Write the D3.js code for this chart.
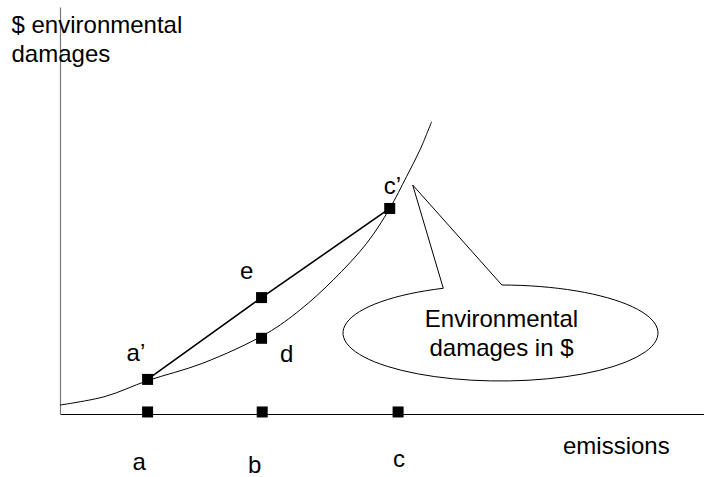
<!DOCTYPE html>
<html>
<head>
<meta charset="utf-8">
<script src="https://cdn.jsdelivr.net/npm/d3@7"></script>
<style>
  html, body { margin: 0; padding: 0; background: #fff; }
  text { font-family: Arial, "Liberation Sans", sans-serif; fill: #000; }
</style>
</head>
<body>
<svg id="chart" width="704" height="477"></svg>
<script>
// ---- data (arbitrary units: emissions 0-100, damages 0-100) ----
const damageCurveX = [0, 7.0, 13.6, 22.2, 32.1, 37.3, 42.4, 47.6, 51.2, 53.8, 55.9, 57.7];
const damageCurveY = [2.2, 4.3, 8.2, 12.5, 19.8, 25.6, 32.9, 41.9, 50.5, 58.3, 64.9, 71.8];

const pointLabels = ["a’", "e", "d", "c’"];
const pointX = [13.6, 31.3, 31.3, 51.2];
const pointY = [8.5, 28.6, 18.6, 50.5];

const chordLabels = ["a’", "e", "c’"];

const emissionLabels = ["a", "b", "c"];
const emissionX = [13.6, 31.4, 52.5];
const emissionY = [0.5, 0.5, 0.5];

const axisTitleY = ["$ environmental", "damages"];
const axisTitleX = "emissions";
const bubbleText = ["Environmental", "damages in $"];

// ---- layout ----
const svg = d3.select("#chart");
const x = d3.scaleLinear().domain([0, 100]).range([60, 704]);
const y = d3.scaleLinear().domain([0, 100]).range([414, 7]);

// axes (plain lines, no ticks)
svg.append("g")
  .attr("transform", `translate(0,${y(0)})`)
  .call(d3.axisBottom(x).ticks(0).tickSizeOuter(0))
  .call(g => g.select(".domain").attr("stroke", "#000").attr("stroke-width", 1.2));
svg.append("g")
  .attr("transform", `translate(${x(0)},0)`)
  .call(d3.axisLeft(y).ticks(0).tickSizeOuter(0))
  .call(g => g.select(".domain").attr("stroke", "#777").attr("stroke-width", 1.2));

// damage curve
const curveData = damageCurveX.map((v, i) => [v, damageCurveY[i]]);
svg.append("path")
  .datum(curveData)
  .attr("fill", "none")
  .attr("stroke", "#000")
  .attr("stroke-width", 1)
  .attr("d", d3.line().x(d => x(d[0])).y(d => y(d[1])).curve(d3.curveCatmullRom.alpha(0.5)));

// chord a' - e - c'
const chord = chordLabels.map(l => {
  const i = pointLabels.indexOf(l);
  return [pointX[i], pointY[i]];
});
svg.append("path")
  .datum(chord)
  .attr("fill", "none")
  .attr("stroke", "#000")
  .attr("stroke-width", 1.6)
  .attr("d", d3.line().x(d => x(d[0])).y(d => y(d[1])));

// markers
const ms = 11;
svg.append("g").selectAll("rect.pt")
  .data(pointLabels.map((l, i) => ({l, x: pointX[i], y: pointY[i]})))
  .join("rect")
  .attr("x", d => x(d.x) - ms / 2)
  .attr("y", d => y(d.y) - ms / 2)
  .attr("width", ms).attr("height", ms)
  .attr("fill", "#000");

svg.append("g").selectAll("rect.em")
  .data(emissionLabels.map((l, i) => ({l, x: emissionX[i], y: emissionY[i]})))
  .join("rect")
  .attr("x", d => x(d.x) - ms / 2)
  .attr("y", d => y(d.y) - ms / 2)
  .attr("width", ms).attr("height", ms)
  .attr("fill", "#000");

// point labels
const pointOffsets = {"a’": [-21, -18], "e": [-21.5, -18.5], "d": [18.5, 23.5], "c’": [-6, -14]};
svg.append("g").selectAll("text")
  .data(pointLabels.map((l, i) => ({l, x: pointX[i], y: pointY[i]})))
  .join("text")
  .attr("x", d => x(d.x) + pointOffsets[d.l][0])
  .attr("y", d => y(d.y) + pointOffsets[d.l][1])
  .attr("font-size", 24)
  .text(d => d.l);

// emission labels
const emOffsets = [[-8.5, 470], [-7.5, 472.5], [1, 467]];
svg.append("g").selectAll("text")
  .data(emissionLabels.map((l, i) => ({l, x: emissionX[i], i})))
  .join("text")
  .attr("x", d => x(d.x) + emOffsets[d.i][0])
  .attr("y", d => emOffsets[d.i][1])
  .attr("text-anchor", "middle")
  .attr("font-size", 24)
  .text(d => d.l);

// axis titles
svg.append("g").selectAll("text")
  .data(axisTitleY)
  .join("text")
  .attr("x", 11.5)
  .attr("y", (d, i) => 33 + i * 28.7)
  .attr("font-size", 24)
  .text(d => d);

svg.append("text")
  .attr("x", 563)
  .attr("y", 454)
  .attr("font-size", 24)
  .text(axisTitleX);

// callout bubble
const cx = 500.5, cy = 333, rx = 157.5, ry = 48;
const tip = [412.7, 185];
const tL = 111.3 * Math.PI / 180, tR = 89.5 * Math.PI / 180;
const L = [cx + rx * Math.cos(tL), cy - ry * Math.sin(tL)];
const R = [cx + rx * Math.cos(tR), cy - ry * Math.sin(tR)];
svg.append("path")
  .attr("d", `M${L[0]},${L[1]} L${tip[0]},${tip[1]} L${R[0]},${R[1]} A${rx},${ry} 0 1 1 ${L[0]},${L[1]} Z`)
  .attr("fill", "#fff")
  .attr("stroke", "#000")
  .attr("stroke-width", 1);

svg.append("g").selectAll("text")
  .data(bubbleText)
  .join("text")
  .attr("x", 501.5)
  .attr("y", (d, i) => 327 + i * 28.5)
  .attr("text-anchor", "middle")
  .attr("font-size", 24)
  .text(d => d);
</script>
</body>
</html>
